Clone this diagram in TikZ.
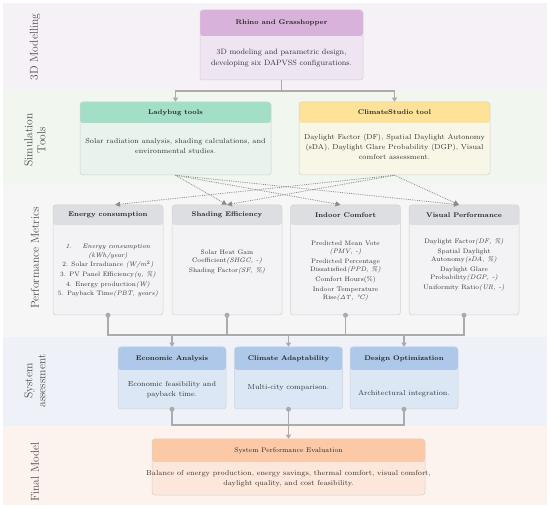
\documentclass[tikz,border=0pt]{standalone}
\usetikzlibrary{arrows.meta,positioning}
\definecolor{bandModel}{HTML}{F5F1F7}
\definecolor{bandSim}{HTML}{F1F6EE}
\definecolor{bandPerf}{HTML}{F6F6F7}
\definecolor{bandSys}{HTML}{EEF2F8}
\definecolor{bandFinal}{HTML}{FDF3EE}
\definecolor{hdPurple}{HTML}{D8B2DB}
\definecolor{bdPurple}{HTML}{EFE5F2}
\definecolor{hdGreen}{HTML}{A3DFC7}
\definecolor{bdGreen}{HTML}{E7F3EC}
\definecolor{hdYellow}{HTML}{FDE298}
\definecolor{bdYellow}{HTML}{F8F6E6}
\definecolor{hdGrey}{HTML}{DDDEE1}
\definecolor{bdGrey}{HTML}{F3F3F5}
\definecolor{hdBlue}{HTML}{AEC8E9}
\definecolor{bdBlue}{HTML}{DCE7F5}
\definecolor{hdOrange}{HTML}{FCC9A6}
\definecolor{bdOrange}{HTML}{FDE7DA}
\begin{document}
\begin{tikzpicture}[x=1pt, y=-1pt,
    box/.style n args={3}{draw=black!18, line width=0.5pt, fill=#2, rounded corners=3pt,
        path picture={\fill[#1] (path picture bounding box.north west) rectangle ([yshift=-#3pt]path picture bounding box.north east);}},
    title/.style={font=\bfseries\fontsize{6.8}{8}\selectfont, text=black!85, inner sep=0},
    txt/.style={font=\fontsize{7.2}{10}\selectfont, align=center, text=black!80, inner sep=0},
    small/.style={font=\fontsize{6.5}{8.2}\selectfont, align=center, text=black!80, inner sep=0},
    band/.style={rotate=90, font=\fontsize{11.5}{13}\selectfont, align=center, text=black!70},
    conn/.style={draw=black!33, line width=1.1pt},
    tip/.style={-{Triangle[length=4pt,width=5pt]}},
    dots/.style={draw=black!45, line width=0.8pt, densely dotted, -{Triangle[length=5pt,width=5pt]}},
    dot/.style={circle, fill=black!33, inner sep=0, minimum size=5pt}
    ]
    \useasboundingbox (0,0) rectangle (550,508);

    % bands
    \fill[bandModel] (3,3) rectangle (547,90);
    \fill[bandSim] (3,90) rectangle (547,183);
    \fill[bandPerf] (3,183) rectangle (547,337);
    \fill[bandSys] (3,337) rectangle (547,426);
    \fill[bandFinal] (3,426) rectangle (547,505);

    \node[band] (lblModel) at (35,47) {3D Modelling};
    \node[band] (lblSim) at (35,140) {Simulation\\Tools};
    \node[band] (lblPerf) at (35,258) {Performance Metrics};
    \node[band] (lblSys) at (35,381) {System\\assessment};
    \node[band] (lblFinal) at (35,472) {Final Model};

    % 3D modelling
    \node[box={hdPurple}{bdPurple}{26}, minimum width=163, minimum height=70] (rhino) at (281.5,45) {};
    \node[title] (rhinoT) at (281.5,23) {Rhino and Grasshopper};
    \node[txt, font=\fontsize{7.7}{11}\selectfont] (rhinoB) at (281.5,58) {3D modeling and parametric design,\\developing six DAPVSS configurations.};

    % simulation tools
    \node[box={hdGreen}{bdGreen}{21}, minimum width=191, minimum height=73] (lady) at (175.5,138.5) {};
    \node[title] (ladyT) at (175.5,112.5) {Ladybug tools};
    \node[txt] (ladyB) at (175.5,146) {Solar radiation analysis, shading calculations, and\\environmental studies.};

    \node[box={hdYellow}{bdYellow}{21}, minimum width=191, minimum height=73] (climate) at (394.5,138.5) {};
    \node[title] (climateT) at (394.5,112.5) {ClimateStudio tool};
    \node[txt] (climateB) at (394.5,147) {Daylight Factor (DF), Spatial Daylight Autonomy\\(sDA), Daylight Glare Probability (DGP), Visual\\comfort assessment.};

    % performance metrics
    \node[box={hdGrey}{bdGrey}{20}, minimum width=110, minimum height=110] (energy) at (108,260) {};
    \node[title] (energyT) at (108,215) {Energy consumption};
    \node[small] (energyB) at (108,271) {\textit{1.\hspace{1.6em}Energy consumption}\\\textit{(kWh/year)}\\[1.5pt]
        2. Solar Irradiance \textit{(W/m$^2$)}\\[1.5pt]
        3. PV Panel Efficiency\textit{($\eta$, \%)}\\[1.5pt]
        4. Energy production\textit{(W)}\\[1.5pt]
        5. Payback Time\textit{(PBT, years)}};

    \node[box={hdGrey}{bdGrey}{20}, minimum width=110, minimum height=110] (shade) at (227,260) {};
    \node[title] (shadeT) at (227,215) {Shading Efficiency};
    \node[small] (shadeB) at (227,262) {Solar Heat Gain\\Coefficient\textit{(SHGC, -)}\\[1.5pt]
        Shading Factor\textit{(SF, \%)}};

    \node[box={hdGrey}{bdGrey}{20}, minimum width=110, minimum height=110] (indoor) at (345.5,260) {};
    \node[title] (indoorT) at (345.5,215) {Indoor Comfort};
    \node[small] (indoorB) at (345.5,271) {Predicted Mean Vote\\\textit{(PMV, -)}\\[1.5pt]
        Predicted Percentage\\Dissatisfied\textit{(PPD, \%)}\\[1.5pt]
        Comfort Hours(\%)\\[1.5pt]
        Indoor Temperature\\Rise\textit{($\mathit{\Delta T}$, °C)}};

    \node[box={hdGrey}{bdGrey}{20}, minimum width=110, minimum height=110] (visual) at (464,260) {};
    \node[title] (visualT) at (464,215) {Visual Performance};
    \node[small] (visualB) at (464,265) {Daylight Factor\textit{(DF, \%)}\\[1.5pt]
        Spatial Daylight\\Autonomy\textit{(sDA, \%)}\\[1.5pt]
        Daylight Glare\\Probability\textit{(DGP, -)}\\[1.5pt]
        Uniformity Ratio\textit{(UR, -)}};

    % system assessment
    \node[box={hdBlue}{bdBlue}{23}, minimum width=108, minimum height=62] (econ) at (172,378) {};
    \node[title] (econT) at (172,358.5) {Economic Analysis};
    \node[txt] (econB) at (172,390) {Economic feasibility and\\payback time.};

    \node[box={hdBlue}{bdBlue}{23}, minimum width=108, minimum height=62] (adapt) at (288.5,378) {};
    \node[title] (adaptT) at (288.5,358.5) {Climate Adaptability};
    \node[txt] (adaptB) at (288.5,388) {Multi-city comparison.};

    \node[box={hdBlue}{bdBlue}{23}, minimum width=108, minimum height=62] (design) at (404,378) {};
    \node[title] (designT) at (404,358.5) {Design Optimization};
    \node[txt] (designB) at (404,394) {Architectural integration.};

    % final model
    \node[box={hdOrange}{bdOrange}{23}, minimum width=273, minimum height=56] (final) at (288.5,467) {};
    \node[title, font=\fontsize{6.8}{8}\selectfont] (finalT) at (288.5,450.5) {System Performance Evaluation};
    \node[txt] (finalB) at (288.5,479) {Balance of energy production, energy savings, thermal comfort, visual comfort,\\daylight quality, and cost feasibility.};

    % connectors
    \coordinate (split1) at (281.5,91);
    \draw[conn] (rhino.south) -- (split1);
    \draw[conn, tip] (split1) -| (lady.north);
    \draw[conn, tip] (split1) -| (climate.north);

    \draw[dots] (lady.south) -- (shade.north);
    \draw[dots] (lady.south) -- ([xshift=-5pt]indoor.north);
    \draw[dots] (lady.south) -- ([xshift=-5pt]visual.north);
    \draw[dots] (climate.south) -- ([xshift=7pt]energy.north);
    \draw[dots] (climate.south) -- (shade.north);
    \draw[dots] (climate.south) -- ([xshift=-5pt]visual.north);

    \coordinate (bar2L) at (108,335);
    \coordinate (bar2R) at (464,335);
    \draw[conn] (energy.south) -- (bar2L) -- (bar2R) -- (visual.south);
    \draw[conn] (shade.south) -- (shade.south |- bar2L);
    \draw[conn] (indoor.south) -- (indoor.south |- bar2L);
    \draw[conn, tip] (econ.north |- bar2L) -- (econ.north);
    \draw[conn, tip] (adapt.north |- bar2L) -- (adapt.north);
    \draw[conn, tip] (design.north |- bar2L) -- (design.north);

    \coordinate (bar3L) at (172,425);
    \coordinate (bar3R) at (404,425);
    \draw[conn] (econ.south) -- (bar3L) -- (bar3R) -- (design.south);
    \draw[conn, tip] (adapt.south) -- (final.north);

    \node[dot] (dEnergy) at (energy.south) {};
    \node[dot] (dShade) at (shade.south) {};
    \node[dot] (dIndoor) at (indoor.south) {};
    \node[dot] (dVisual) at (visual.south) {};
    \node[dot] (dEcon) at (econ.south) {};
    \node[dot] (dAdapt) at (adapt.south) {};
    \node[dot] (dDesign) at (design.south) {};

\end{tikzpicture}
\end{document}
